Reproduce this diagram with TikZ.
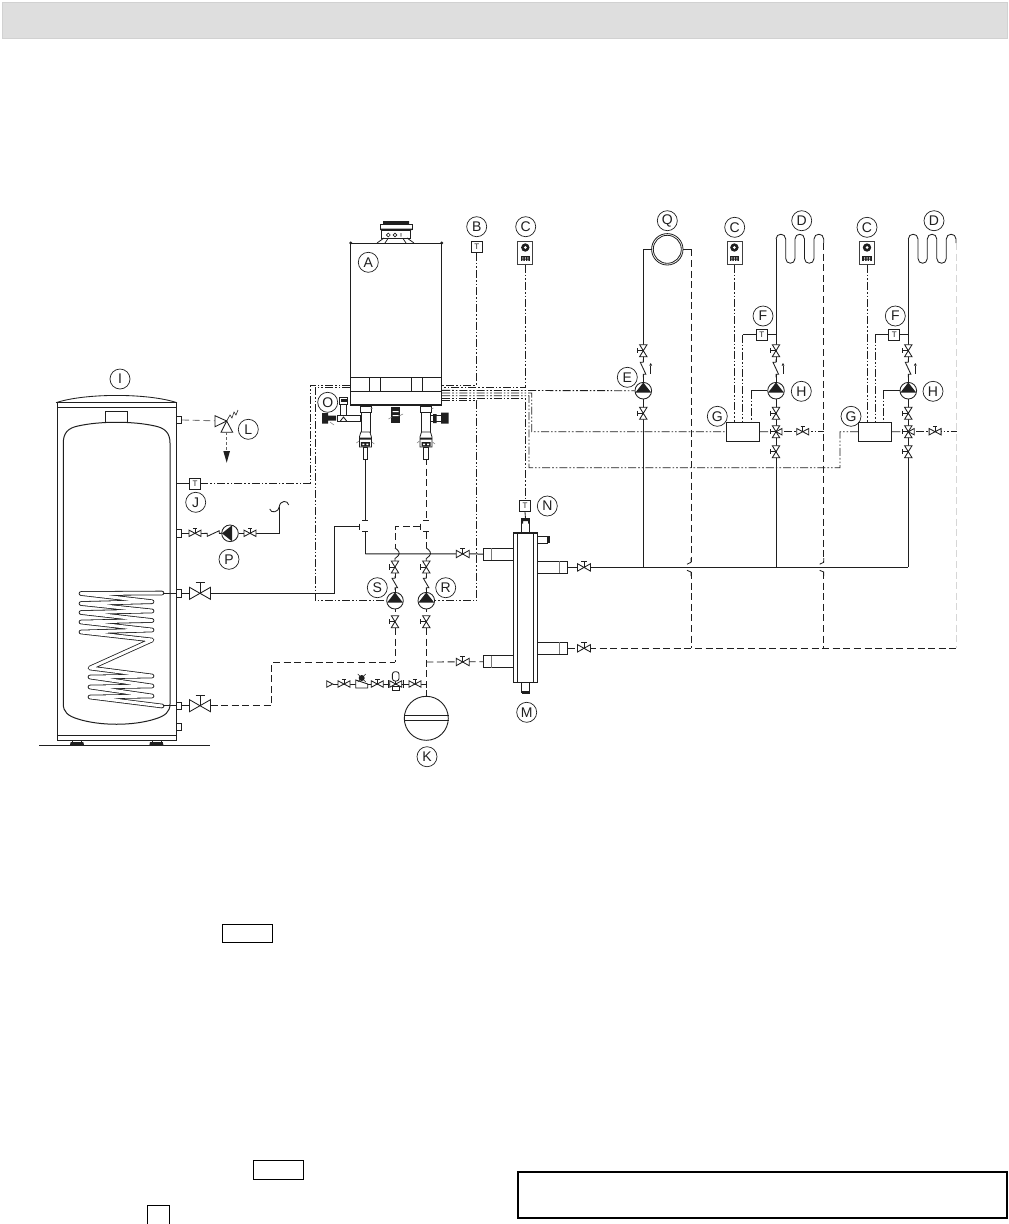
\documentclass[tikz,border=0pt]{standalone}
\usepackage{fontspec}
\setmainfont{Liberation Sans}
\usetikzlibrary{calc}
\definecolor{ink}{gray}{0.12}
\tikzset{
 pipe/.style={line width=.85pt,draw=ink},
 ret/.style={line width=.85pt,draw=ink,dash pattern=on 7pt off 3.6pt},
 ctl/.style={line width=.85pt,draw=ink,dash pattern=on 8pt off 2pt on 1.6pt off 2pt on 1.6pt off 2pt},
 lbl/.style={circle,draw=ink,line width=.7pt,minimum size=20pt,inner sep=0pt,font=\fontsize{14}{14}\selectfont,text=ink},
 sens/.style={rectangle,draw=ink,line width=.7pt,minimum size=11pt,inner sep=0pt,font=\fontsize{8}{8}\selectfont,text=ink},
 devbox/.style={rectangle,draw=ink!85,line width=.8pt,minimum width=15pt,minimum height=22.6pt,inner sep=0pt},
 pumpn/.style={circle,draw=ink,line width=.85pt,fill=white,minimum size=16.6pt,inner sep=0pt},
 stub/.style={rectangle,draw=ink,line width=.8pt,fill=white,minimum width=5pt,minimum height=7.4pt,inner sep=0pt},
 port/.style={rectangle,draw=ink,line width=.8pt,fill=white,minimum width=30pt,minimum height=12pt,inner sep=0pt},
 blank/.style={rectangle,draw=black,line width=.9pt,fill=white,inner sep=0pt},
 vv/.pic={\draw[pipe,fill=white] (-3.7,-6)--(3.7,-6)--(-3.7,6)--(3.7,6)--cycle;
          \draw[pipe] (0,0)--(-6,0) (-6,-2.6)--(-6,2.6);},
 hv/.pic={\draw[pipe,fill=white] (-6.5,-3.7)--(-6.5,3.7)--(6.5,-3.7)--(6.5,3.7)--cycle;
          \draw[pipe] (0,0)--(0,-6) (-2.6,-6)--(2.6,-6);},
 hvs/.pic={\draw[pipe,fill=white] (-6,-3.2)--(-6,3.2)--(6,-3.2)--(6,3.2)--cycle;
          \draw[pipe] (0,0)--(0,-5) (-2.2,-5)--(2.2,-5);},
 bigv/.pic={\draw[pipe,fill=white] (-10.5,-6)--(-10.5,6)--(10.5,-6)--(10.5,6)--cycle;
          \draw[pipe] (0,0)--(0,-10.5) (-4.5,-10.5)--(4.5,-10.5);},
 chk/.pic={\fill[white] (-3.5,-6) rectangle (3,6);
           \draw[pipe] (0,-9)--(0,-6)--(-3,-6)--(2.6,6)--(0,6)--(0,9);},
 flowtick/.pic={\draw[line width=1pt,draw=ink] (0,5)--(0,-3); \fill[ink] (-1.4,-3)--(1.4,-3)--(0,-5.5)--cycle;},
 mixv/.pic={\draw[pipe,fill=white] (-3.7,-6)--(3.7,-6)--(-3.7,6)--(3.7,6)--cycle;
            \draw[pipe,fill=white] (0,0)--(6,-3.2)--(6,3.2)--cycle;
            \draw[pipe] (0,0)--(-6,0) (-6,-2.6)--(-6,2.6);},
 devicon/.pic={\fill[ink] (0,-5.5) circle (4.2);
   \fill[white] (0,-5.5) circle (1.5);
   \fill[white] (-5,-10.5) rectangle (-3,-8.5) (3,-3) rectangle (5,-1);
   \fill[ink] (-4.6,3) rectangle (4.6,8);
   \fill[white] (-3,4.4) rectangle (-2,5.6) (-.5,4.4) rectangle (.5,5.6) (2,4.4) rectangle (3,5.6)
                (-3,6.6) rectangle (-2,8) (-.5,6.6) rectangle (.5,8) (2,6.6) rectangle (3,8);},
 hub/.pic={\fill[ink] (-5,-16) rectangle (5,-14.5);
   \draw[line width=.8pt,draw=ink,fill=white] (-5.5,-14.5) rectangle (5.5,-9);
   \draw[line width=.8pt,draw=ink,fill=white] (-4.5,-9) rectangle (4.5,11);
   \draw[line width=.8pt,draw=ink,fill=white] (-4.5,11)--(-6,16)--(-6,26)--(6,26)--(6,16)--(4.5,11)--cycle;
   \fill[ink] (-6,16.5) rectangle (6,18.5) (-4.5,21) rectangle (4.5,25.5);
   \fill[white] (-3,22.5) rectangle (-1,24) (1,22.5) rectangle (3,24);
   \draw[line width=.5pt,draw=ink!60] (-6.5,20)--(-9,22) (6.5,21)--(9,23) (5,-12)--(7.5,-13);
   \draw[line width=.8pt,draw=ink,fill=white] (-2.2,26) rectangle (2.2,38);},
}
\newcommand{\serp}[1]{%
 \draw[pipe] (#1+0,239) .. controls (#1+0,232.7) and (#1+9.7,232.7) .. (#1+9.7,239) -- (#1+9.7,258.5)
   .. controls (#1+9.7,264.8) and (#1+19,264.8) .. (#1+19,258.5) -- (#1+19,239)
   .. controls (#1+19,232.7) and (#1+28.5,232.7) .. (#1+28.5,239) -- (#1+28.5,258.5)
   .. controls (#1+28.5,264.8) and (#1+38,264.8) .. (#1+38,258.5) -- (#1+38,239)
   .. controls (#1+38,232.7) and (#1+47.7,232.7) .. (#1+47.7,239) -- (#1+47.7,243);}
\newcommand{\hop}[1]{\draw[pipe] (#1,558)--(#1,562.3)--(#1-4,564.2) (#1-4,570.3)--(#1,572)--(#1,576);}
\begin{document}
\begin{tikzpicture}[x=1pt,y=-1pt]
\useasboundingbox (0,0) rectangle (1009,1224);
\fill[white] (0,0) rectangle (1009,1224);
\node[rectangle,fill=black!13,draw=black!18,line width=.4pt,minimum width=1005pt,minimum height=36pt,inner sep=0pt] (topbar) at (504.5,20) {};

%% blank boxes
\node[blank,minimum width=50pt,minimum height=18.5pt] (boxa) at (247,933.5) {};
\node[blank,minimum width=50pt,minimum height=18.5pt] (boxb) at (278,1170) {};
\node[blank,minimum width=22pt,minimum height=19pt] (boxc) at (158,1214.5) {};
\node[rectangle,draw=black,line width=2pt,minimum width=489pt,minimum height=46pt,inner sep=0pt] (boxd) at (762.5,1194.5) {};

%% nodes that the pipes refer to
\node[rectangle,draw=ink,line width=1pt,minimum width=91pt,minimum height=162pt,inner sep=0pt] (boiler) at (396.2,324) {};
\node[sens] (tB) at (476.7,247) {T};
\node[devbox] (cA) at (525.3,253) {};
\node[sens] (tJ) at (195,483.5) {T};
\node[sens] (tN) at (525,506.2) {T};
\node[pumpn] (pE) at (643.3,390.7) {};
\node[pumpn] (pS) at (395,600.7) {};
\node[pumpn] (pR) at (426.3,600.7) {};
\node[pumpn] (pP) at (230,533.3) {};
\node[circle,draw=ink,line width=.8pt,minimum size=31.4pt,inner sep=0pt] (qQ) at (667.3,249.3) {};
\node[circle,draw=ink,line width=.8pt,minimum size=28pt,inner sep=0pt] (qQi) at (667.3,249.3) {};
\node[circle,draw=ink,line width=.9pt,fill=white,minimum size=44pt,inner sep=0pt] (kK) at (426.3,718.3) {};
\node[stub] (s1) at (179.2,420) {};
\node[stub] (s2) at (179.2,533.3) {};
\node[stub] (s3) at (179.2,593.3) {};
\node[stub] (s4) at (179.2,705.7) {};
\node[stub] (s5) at (179.2,726.7) {};
\node[rectangle,draw=ink,line width=.8pt,minimum width=33pt,minimum height=18.3pt,inner sep=0pt] (gA) at (742.8,431.8) {};
\node[rectangle,draw=ink,line width=.8pt,minimum width=33pt,minimum height=18.3pt,inner sep=0pt] (gB) at (875.2,431.8) {};
\node[rectangle,draw=ink,line width=1pt,minimum width=23.6pt,minimum height=149.6pt,inner sep=0pt] (sep) at (525.5,607.5) {};
\node[port] (pl1) at (498.5,554) {};
\node[port] (pl2) at (498.5,661.7) {};
\node[port] (pr1) at (552.3,567.4) {};
\node[port] (pr2) at (552.3,648.3) {};
\node[devbox] (cB) at (734.4,253) {};
\node[devbox] (cC) at (867,253) {};
\node[sens] (tF) at (761.8,334.7) {T};
\node[sens] (tG) at (894.2,334.7) {T};
\node[pumpn] (pH) at (776,390.7) {};
\node[pumpn] (pI) at (908.3,390.7) {};
\coordinate (brA) at (776,334.7);
\coordinate (brB) at (908.3,334.7);
\coordinate (rvA) at (802.7,431.7);
\coordinate (rvB) at (935.1,431.7);

%% control wiring
\draw[ctl] (tB.south) -- (tB.south |- 0,385) -- (boiler.east |- 0,385);
\draw[ctl] (cA.south) -- (cA.south |- 0,387.7) -- (boiler.east |- 0,387.7);
\draw[ctl] (boiler.east |- 0,390.4) -- (pE.west);
\draw[ctl] (boiler.east |- 0,393) -- (531.7,393) -- (531.7,431.7) -- (gA.west);
\draw[ctl] (boiler.east |- 0,395.7) -- (529,395.7) -- (529,467.7) -- (840,467.7) -- (840,431.7) -- (gB.west);
\draw[ctl] (boiler.east |- 0,398.4) -- (tN.north |- 0,398.4) -- (tN.north);
\draw[ctl] (boiler.east |- 0,400.8) -- (476.9,400.8) -- (476.9,600.7) -- (pR.east);
\draw[ctl] (boiler.west |- 0,385) -- (310,385) -- (310,483.5) -- (tJ.east);
\draw[ctl] (boiler.west |- 0,387.7) -- (315,387.7) -- (315,600.7) -- (pS.west);
\draw[ctl] (cB.south) -- (cB.south |- gA.north);
\draw[ctl] (cC.south) -- (cC.south |- gB.north);
\draw[pipe] (tF.west) -- (742.7,334.7);
\draw[ctl] (742.7,334.7) -- (742.7,422.7);
\draw[pipe] (tG.west) -- (875.1,334.7);
\draw[ctl] (875.1,334.7) -- (875.1,422.7);
\draw[pipe] (pH.west) -- (751,390.7);
\draw[ctl] (751,390.7) -- (751,422.7);
\draw[pipe] (pI.west) -- (883.3,390.7);
\draw[ctl] (883.3,390.7) -- (883.3,422.7);
\draw[pipe] (tF.east) -- (brA);
\draw[pipe] (tG.east) -- (brB);
\draw[pipe] (gA.east) -- (768,431.7);
\draw[pipe] (gB.east) -- (900.4,431.7);
\draw[ctl] (784,431.7) -- (rvA) -- (823.7,431.7);
\draw[ctl] (916.4,431.7) -- (rvB) -- (956.7,431.7);
\draw[pipe] (tJ.west) -- (176,483.5);

%% flow side
\draw[pipe] (qQ.west) -- (pE.north |- qQ.west) -- (pE.north);
\draw[pipe] (pE.south) -- (643.3,567.4);
\draw[pipe] (qQ.east) -- (691,249.3);
\draw[ret] (691,249.3) -- (691,562);
\draw[ret] (691,572) -- (691,648.3);
\hop{691}
\serp{776}
\draw[ret] (823.7,243) -- (823.7,562);
\draw[ret] (823.7,572) -- (823.7,648.3);
\hop{823.7}
\serp{908.3}
\draw[ret,draw=black!16] (956,243) -- (956,648.3);
\draw[pipe] (776,239) -- (pH.north);
\draw[pipe] (pH.south) -- (776,567.4);
\draw[pipe] (908.3,239) -- (pI.north);
\draw[pipe] (pI.south) -- (908.3,567.4);
\draw[pipe,line width=1pt] (pr1.east) -- (908.3,567.4);
\draw[ret] (pr2.east) -- (956,648.3);
\draw[pipe,line width=1pt] (365.4,553.8) -- (pl1.west);

%% tee at left boiler pipe
\draw[pipe] (365.4,455) -- (365.4,520) (362.4,520)--(368.4,520)
            (362.4,531.7)--(368.4,531.7) (365.4,531.7)--(365.4,553.8);
\draw[pipe] (359.3,523.5)--(359.3,529.5);
\draw[pipe] (359.3,526.7) -- (334.3,526.7) -- (334.3,593.3) -- (s3.east);
%% tee at right boiler pipe
\draw[ret] (426.3,458) -- (426.3,520);
\draw[pipe] (423.3,520)--(429.3,520) (423.3,531.7)--(429.3,531.7);
\draw[pipe] (420.3,523.5)--(420.3,529.5);
\draw[ret] (420.3,526.7) -- (395,526.7) -- (395,548);
\draw[ret] (426.3,531.7) -- (426.3,548);
\draw[pipe] (395,548) .. controls (398,550) and (401,553) .. (398,556) -- (395,558.5) -- (395,562);
\draw[pipe] (426.3,548) .. controls (429.3,550) and (432.3,553) .. (429.3,556) -- (426.3,558.5) -- (426.3,562);
\draw[pipe] (395,562) -- (pS.north);
\draw[pipe] (426.3,562) -- (pR.north);
\draw[pipe] (pS.south) -- (395,612);
\draw[pipe] (pR.south) -- (426.3,612);
\draw[ret] (395,628) -- (395,662.3);
\draw[ret] (426.3,628) -- (426.3,690);
\draw[pipe] (426.3,690) -- (kK.north);
\draw[ret] (426.3,662) -- (pl2.west);
\draw[pipe] (kK.west |- 0,715.7) -- (kK.east |- 0,715.7);
\draw[pipe] (kK.west |- 0,720.7) -- (kK.east |- 0,720.7);
%% expansion row
\draw[pipe] (332.7,684) -- (426.3,684);
\draw[pipe,fill=white] (326.7,680.8)--(332.7,684)--(326.7,687.2)--cycle;
\pic at (344,684) {hvs};
\draw[pipe,fill=white] (355.7,680)--(367.7,684)--(367.7,688)--(355.7,688)--cycle;
\fill[ink] (361.7,678) circle (3);
\draw[line width=.5pt,draw=ink] (357.7,674)--(365.7,682) (365.7,674)--(357.7,682);
\pic at (377.3,684) {hvs};
\pic at (395.7,684) {hvs};
\draw[pipe,fill=white,rounded corners=2.5pt] (392.4,671.7) rectangle (399,681);
\draw[pipe,fill=white] (392.4,686) rectangle (399,690.5);
\draw[pipe] (388,680)--(388,688) (403.5,680)--(403.5,688);
\pic at (415,684) {hvs};

%% tank
\draw[line width=1pt,draw=ink] (57.3,402.7) rectangle (176,740);
\draw[pipe] (57.3,407.3)--(176,407.3) (57.3,735)--(176,735);
\draw[pipe] (56,402.7) .. controls (85,393) and (148,393) .. (177,402.7);
\draw[pipe] (105.7,422.5)--(105.7,411.7)--(127.7,411.7)--(127.7,422.5);
\draw[line width=1pt,draw=ink] (63.3,443) .. controls (63.3,433) and (68,428) .. (78,426)
    .. controls (100,421) and (133,421) .. (155,426) .. controls (165,428) and (170,433) .. (170,443)
    -- (170,704) .. controls (170,712) and (165,716) .. (155,719)
    .. controls (133,726) and (100,726) .. (78,719) .. controls (68,716) and (63.3,712) .. (63.3,704) -- cycle;
\draw[line width=4.6pt,draw=ink,line join=round,line cap=round]
  (162,593)--(81,593.5)--(152,601.7)--(81,603.5)--(152,611)--(81,612.5)--(152,620.5)--(81,622)--(152,630)--(81,632)--(152,640)--(90,668)--(152,676)--(90,677)--(152,686)--(90,687)--(152,696)--(90,697)--(162,706);
\draw[line width=3pt,draw=white,line join=round,line cap=round]
  (162,593)--(81,593.5)--(152,601.7)--(81,603.5)--(152,611)--(81,612.5)--(152,620.5)--(81,622)--(152,630)--(81,632)--(152,640)--(90,668)--(152,676)--(90,677)--(152,686)--(90,687)--(152,696)--(90,697)--(162,706);
\draw[pipe] (162.5,593.3)--(s3.west);
\draw[pipe] (162.5,705.7)--(s4.west);
\draw[line width=1pt,draw=ink] (39,745)--(210,745);
\fill[ink] (70.7,742)--(83.3,742)--(84,745)--(70,745)--cycle (150,742)--(162.7,742)--(163.4,745)--(149.4,745)--cycle;
\draw[pipe] (72.5,740)--(72.5,742) (81.5,740)--(81.5,742) (152,740)--(152,742) (161,740)--(161,742);

%% L relief valve
\draw[ret,draw=ink!60] (s1.east) -- (215,420.8);
\draw[pipe,fill=white] (215,415.7)--(215,426.7)--(226.7,421)--cycle;
\draw[pipe,fill=white] (226.7,421)--(221,432.3)--(232.7,432.3)--cycle;
\draw[line width=.6pt,draw=ink] (226.7,421)--(230,415)--(232,418)--(234,412)--(236,415)--(238,410);
\draw[ret,dash pattern=on 3pt off 2pt,draw=ink!70] (226.7,432.3)--(226.7,451);
\fill[ink] (223.3,451)--(230,451)--(226.7,462.7)--cycle;

%% P circulation
\draw[pipe] (s2.east)--(pP.west);
\draw[pipe] (pP.east)--(279.3,533.3)--(279.3,506.7);
\draw[pipe] (269.7,509) .. controls (271,514) and (279,512) .. (279.3,506.7)
            .. controls (280,500) and (288,500) .. (288.7,505);
\fill[ink] (230,533.3) ++(2,-8)--++(0,16)--++(-10,-8)--cycle;
\pic at (195,533.3) {hvs};
\pic at (250,533.3) {hvs};
\pic[rotate=90] at (213.3,533.3) {chk};

%% storage valves
\pic at (200,593.3) {bigv};
\pic at (200,705.7) {bigv};
\draw[pipe] (s4.east)--(189.5,705.7);
\draw[pipe] (s3.east)--(189.5,593.3);
\draw[ret] (210.5,705.7) -- (271.7,705.7) -- (271.7,662.3) -- (395,662.3);

%% pump triangles and valves: column E
\fill[ink] (635.3,392.7)--(651.3,392.7)--(643.3,382.5)--cycle;
\pic at (643.3,350.7) {vv};
\pic at (643.3,368.3) {chk};
\pic at (650.7,368.5) {flowtick};
\pic at (643.3,413.3) {vv};
%% column H
\fill[ink] (768,392.7)--(784,392.7)--(776,382.5)--cycle;
\pic at (776,350.7) {vv};
\pic at (776,368.3) {chk};
\pic at (783,368.5) {flowtick};
\pic at (776,413.3) {vv};
\pic at (776,431.7) {mixv};
\pic at (776,451.7) {vv};
\pic at (rvA) {hvs};
%% column H2
\fill[ink] (900.3,392.7)--(916.3,392.7)--(908.3,382.5)--cycle;
\pic at (908.3,350.7) {vv};
\pic at (908.3,368.3) {chk};
\pic at (915.3,368.5) {flowtick};
\pic at (908.3,413.3) {vv};
\pic at (908.3,431.7) {mixv};
\pic at (908.3,451.7) {vv};
\pic at (rvB) {hvs};
%% S and R
\fill[ink] (387,602.7)--(403,602.7)--(395,592.5)--cycle;
\fill[ink] (418.3,602.7)--(434.3,602.7)--(426.3,592.5)--cycle;
\pic at (395,567) {vv};
\pic at (426.3,567) {vv};
\pic[yscale=.8] at (395,583) {chk};
\pic[yscale=.8] at (426.3,583) {chk};
\pic at (395,621.7) {vv};
\pic at (426.3,621.7) {vv};
%% separator valves
\pic at (462.7,554) {hv};
\pic at (462.7,662) {hv};
\pic at (584,567.4) {hv};
\pic at (584,648.3) {hv};

%% hydraulic separator
\draw[pipe] (517.3,532.7)--(517.3,682.3) (533.8,532.7)--(533.8,682.3);
\draw[line width=1.6pt,draw=ink] (513.7,532.7)--(537.3,532.7) (513.7,682.3)--(537.3,682.3);
\draw[pipe,draw=ink!60] (491.7,548)--(491.7,560) (491.7,655.7)--(491.7,667.7) (559.3,561.4)--(559.3,573.4) (559.3,642.3)--(559.3,654.3);
\draw[pipe,fill=white] (521.5,518.5) rectangle (529.5,532.5);
\fill[ink] (521.5,518.5) rectangle (529.5,521) (521.5,521) rectangle (523,523.5) (528,521) rectangle (529.5,523.5);
\draw[pipe] (tN.south)--(525.5,518.5);
\draw[pipe,fill=white] (521.7,682.5) rectangle (529.5,692);
\fill[ink] (521.7,690.5) rectangle (529.5,693.5);
\draw[pipe] (537.3,536)--(548,536) (537.3,543.4)--(548,543.4);
\fill[ink] (547,536) rectangle (550,543.4);

%% boiler details
\draw[line width=1pt,draw=ink] (boiler.west |- 0,377.7) -- (boiler.east |- 0,377.7);
\draw[line width=1pt,draw=ink] (boiler.west |- 0,391.8) -- (boiler.east |- 0,391.8);
\draw[line width=1pt,draw=ink] (369.3,377.7)--(369.3,391.8) (380.3,377.7)--(380.3,391.8) (411,377.7)--(411,391.8) (422.3,377.7)--(422.3,391.8);
\draw[line width=2pt,draw=ink] (boiler.west |- 0,405) -- (boiler.east |- 0,405);
\fill[ink] (350.7,243) circle (1.6) (441.7,243) circle (1.6);
%% flue
\draw[line width=.8pt,draw=ink,fill=white] (381.7,230) rectangle (410,238);
\draw[line width=.8pt,draw=ink] (385,243)--(388,238.5) (403,238.5)--(406,243) (377,243)--(384,238) (414,243)--(407,238);
\draw[line width=1pt,draw=ink,fill=white] (380,224) rectangle (412,229.5);
\fill[ink] (383,221) rectangle (409,224.5) (380,228.5) rectangle (412,230.2);
\draw[line width=.6pt,draw=ink] (388.3,235) circle (1.9) (395,235) circle (1.9) (401,233)--(401,236.5);
%% fittings under the boiler
\pic at (365.4,421) {hub};
\pic at (426,421) {hub};
\fill[ink] (391,406.5) rectangle (400,423);
\fill[white] (392.5,411) rectangle (398.5,412) (392.5,415) rectangle (398.5,416);
\draw[line width=.5pt,draw=ink!60] (388.5,419)--(392,417) (399,416)--(403,414);
%% O assembly
\draw[pipe,fill=white] (360,415)--(360,421.5)--(337,421.5)--(337,415)--cycle;
\draw[pipe,fill=white] (340.5,404) rectangle (346.5,415);
\draw[pipe,fill=white] (339.5,397.5) rectangle (347.5,404);
\fill[ink] (340.5,399) rectangle (346.5,402);
\fill[ink] (322,413) rectangle (328,423.5) (328,415.5) rectangle (336,420.5);
\draw[pipe] (340,421.5)--(343.5,417)--(347,421.5);
\draw[line width=.5pt,draw=ink!60] (330,422)--(334,425);
\draw[pipe,fill=white] (430.5,415) rectangle (441,421);
\fill[ink] (441,412.5) rectangle (448.5,423.5) (433,414) rectangle (436.5,423);

%% devices
\pic at (cA) {devicon};
\pic at (cB) {devicon};
\pic at (cC) {devicon};

%% labels
\node[lbl] (lA) at (368.3,262.3) {A};
\node[lbl] (lB) at (476.7,226.7) {B};
\node[lbl] (lC) at (525.7,226.7) {C};
\node[lbl] (lC2) at (734.7,227.3) {C};
\node[lbl] (lC3) at (867,227.3) {C};
\node[lbl] (lD) at (801.7,220.7) {D};
\node[lbl] (lD2) at (934,220.7) {D};
\node[lbl] (lE) at (627.3,377.3) {E};
\node[lbl] (lF) at (763,316) {F};
\node[lbl] (lF2) at (895.3,316) {F};
\node[lbl] (lG) at (717.3,416.3) {G};
\node[lbl] (lG2) at (851,416.3) {G};
\node[lbl] (lH) at (801.3,391.3) {H};
\node[lbl] (lH2) at (933,391.3) {H};
\node[lbl] (lI) at (120,379) {I};
\node[lbl] (lJ) at (195.7,502.3) {J};
\node[lbl] (lK) at (427,756.7) {K};
\node[lbl] (lL) at (248.3,429.3) {L};
\node[lbl] (lM) at (526.7,712.3) {M};
\node[lbl] (lN) at (547.3,506) {N};
\node[lbl,fill=white] (lO) at (327.7,402.3) {O};
\node[lbl] (lP) at (229,559.3) {P};
\node[lbl] (lQ) at (667.3,220.7) {Q};
\node[lbl] (lR) at (445.7,587.7) {R};
\node[lbl] (lS) at (377.3,587.7) {S};
\end{tikzpicture}
\end{document}
